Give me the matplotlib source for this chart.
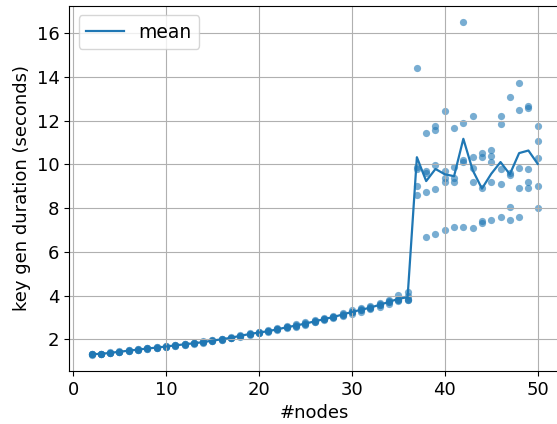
import matplotlib
matplotlib.use("Agg")
import matplotlib.pyplot as plt
import numpy as np

# nombre de noeuds
nodes = list(range(2, 51))

# durées mesurées (5 runs par nombre de noeuds), en secondes
run_1 = [1.30, 1.31, 1.36, 1.41, 1.46, 1.51, 1.56, 1.60, 1.64, 1.70,
         1.74, 1.79, 1.84, 1.91, 1.97, 2.04, 2.12, 2.20, 2.27, 2.33,
         2.42, 2.51, 2.58, 2.67, 2.77, 2.86, 2.96, 3.06, 3.17, 3.27,
         3.38, 3.50, 3.63, 3.76, 3.79,
         14.40, 11.45, 11.75, 12.46, 11.66, 16.50, 12.23, 10.53, 10.68,
         12.23, 13.09, 13.74, 12.68, 11.77]
run_2 = [1.31, 1.33, 1.37, 1.42, 1.47, 1.52, 1.57, 1.61, 1.66, 1.71,
         1.76, 1.81, 1.86, 1.93, 1.99, 2.06, 2.15, 2.23, 2.30, 2.36,
         2.45, 2.54, 2.62, 2.71, 2.81, 2.91, 3.01, 3.12, 3.23, 3.33,
         3.43, 3.56, 3.69, 3.80, 3.82,
         9.88, 9.70, 11.56, 9.70, 9.90, 11.90, 10.35, 10.35, 10.38,
         11.85, 9.62, 12.50, 12.60, 11.06]
run_3 = [1.32, 1.33, 1.38, 1.43, 1.48, 1.53, 1.58, 1.62, 1.67, 1.72,
         1.77, 1.82, 1.87, 1.94, 2.00, 2.07, 2.16, 2.24, 2.31, 2.37,
         2.46, 2.55, 2.63, 2.72, 2.82, 2.92, 3.02, 3.13, 3.25, 3.35,
         3.45, 3.58, 3.71, 3.82, 3.85,
         9.77, 9.60, 9.97, 9.39, 9.39, 10.20, 9.85, 8.90, 10.12,
         9.77, 9.50, 9.85, 9.80, 10.30]
run_4 = [1.33, 1.34, 1.39, 1.44, 1.49, 1.54, 1.59, 1.63, 1.68, 1.73,
         1.78, 1.83, 1.88, 1.95, 2.01, 2.08, 2.17, 2.25, 2.32, 2.38,
         2.47, 2.56, 2.64, 2.73, 2.83, 2.93, 3.03, 3.14, 3.27, 3.37,
         3.47, 3.60, 3.73, 3.84, 3.99,
         9.00, 8.74, 8.86, 9.20, 9.20, 10.10, 9.20, 7.39, 9.20,
         9.09, 8.06, 8.90, 9.20, 9.00]
run_5 = [1.34, 1.35, 1.40, 1.45, 1.50, 1.55, 1.60, 1.64, 1.70, 1.75,
         1.80, 1.85, 1.90, 1.97, 2.03, 2.10, 2.20, 2.28, 2.35, 2.41,
         2.50, 2.59, 2.68, 2.77, 2.87, 2.98, 3.08, 3.21, 3.33, 3.43,
         3.52, 3.66, 3.79, 4.03, 4.18,
         8.60, 6.70, 6.82, 7.00, 7.16, 7.16, 7.07, 7.30, 7.47,
         7.60, 7.47, 7.60, 8.90, 8.00]

runs = np.array([run_1, run_2, run_3, run_4, run_5])
mean = runs.mean(axis=0)

fig = plt.figure(figsize=(5.57, 4.24), dpi=100)
ax = fig.add_axes([0.1244, 0.1245, 0.881, 0.862])

# nuage de points : tous les runs
for r in runs:
    ax.scatter(nodes, r, s=27, color="#1f77b4", alpha=0.6, linewidths=0)

# courbe moyenne
ax.plot(nodes, mean, color="#1f77b4", lw=1.6, label="mean")

ax.set_xlim(-0.4, 52.4)
ax.set_ylim(0.54, 17.26)
ax.set_yticks([2, 4, 6, 8, 10, 12, 14, 16])
ax.set_xticks([0, 10, 20, 30, 40, 50])
ax.grid(True)
ax.tick_params(labelsize=13)
ax.set_xlabel("#nodes", fontsize=13)
ax.set_ylabel("key gen duration (seconds)", fontsize=13)
ax.legend(loc="upper left", fontsize=13.5)

fig.savefig("out.png", dpi=100)
